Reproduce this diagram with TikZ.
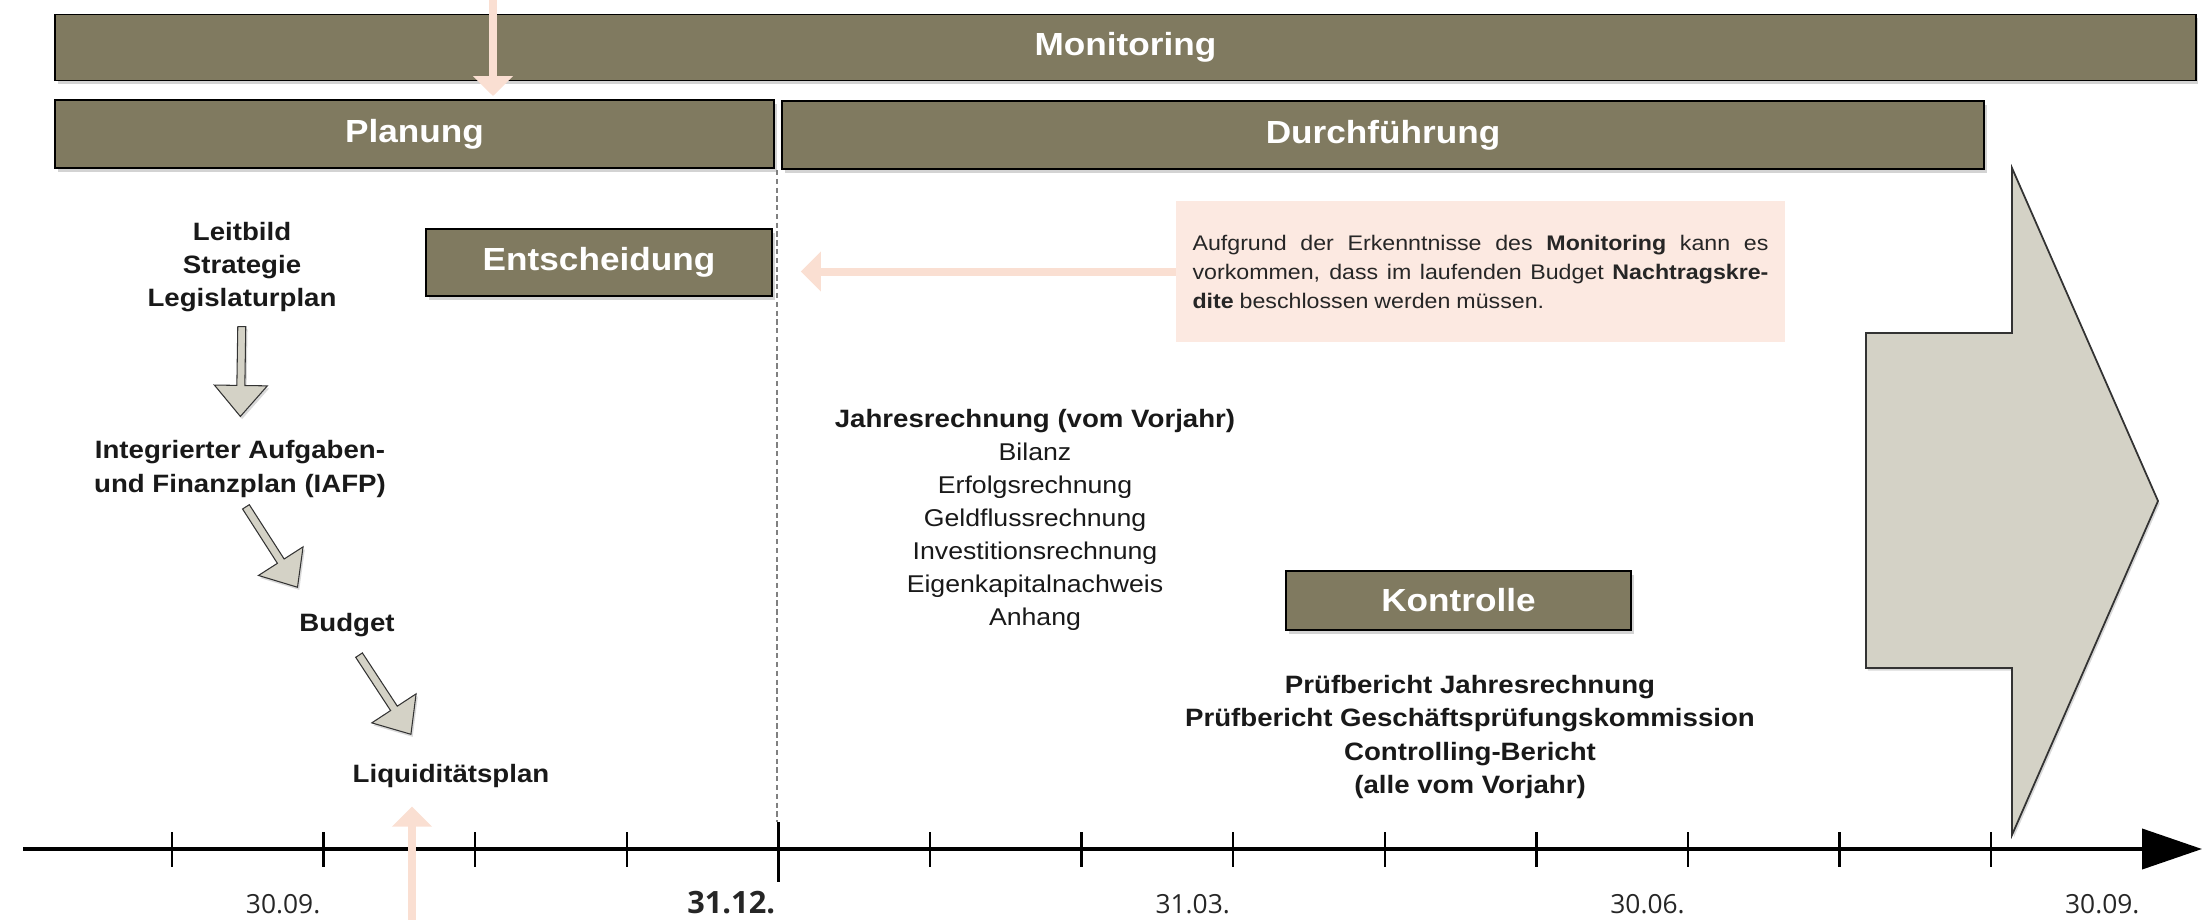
\documentclass[tikz,border=0pt]{standalone}
\usepackage{fontspec}
\setmainfont{Liberation Sans}[FakeStretch=1.1]
\newfontfamily\datefont{Open Sans}
\usepackage{xcolor}
\usetikzlibrary{arrows.meta,calc,shadows}
\definecolor{barolive}{HTML}{807A60}
\definecolor{arrowgray}{HTML}{D4D2C6}
\definecolor{notepink}{HTML}{FCE9E1}
\definecolor{peach}{HTML}{FADFD2}

% hollow block arrow between two anchors: from, to, gap at start, gap at end
\newcommand{\blockarrow}[4]{%
  \coordinate (ba-s) at ($(#1)!#3!(#2)$);
  \coordinate (ba-t) at ($(#2)!#4!(#1)$);
  \coordinate (ba-n) at ($(ba-t)!0.62cm!(ba-s)$);
  \draw[grayarr] ($(ba-s)!0.08cm!90:(ba-t)$) -- ($(ba-n)!0.08cm!90:(ba-t)$)
    -- ($(ba-n)!0.53cm!90:(ba-t)$) -- (ba-t) -- ($(ba-n)!0.53cm!-90:(ba-t)$)
    -- ($(ba-n)!0.08cm!-90:(ba-t)$) -- ($(ba-s)!0.08cm!-90:(ba-t)$) -- cycle;
}

\begin{document}
\begin{tikzpicture}[x=0.02cm, y=-0.02cm,
  phase/.style={draw=black, line width=1.1pt, fill=barolive, text=white, inner sep=0pt,
    font=\fontsize{18.2}{22}\selectfont\bfseries,
    drop shadow={shadow xshift=1.5pt, shadow yshift=-2pt, opacity=0.35}},
  txt/.style={align=center, inner sep=0pt, text=black!90, font=\fontsize{13.8}{18.8}\selectfont},
  boldtxt/.style={txt, font=\fontsize{14.3}{18.8}\selectfont\bfseries},
  note/.style={fill=notepink, inner xsep=0.33cm, text width=11.52cm, minimum height=2.82cm,
    font=\fontsize{12}{16.5}\selectfont, text=black!85},
  grayarr/.style={draw=black!80, line width=0.6pt, fill=arrowgray,
    drop shadow={shadow xshift=1pt, shadow yshift=-1.5pt, opacity=0.3}},
  peacharr/.style={draw=peach, line width=0.16cm, -{Triangle[length=0.4cm, width=0.78cm]}},
  tick/.style={line width=1.3pt},
  datelbl/.style={anchor=east, inner sep=0pt, font=\datefont\fontsize{15}{18}\selectfont, text=black!85}
]
  \useasboundingbox (0,0) rectangle (2209,920);

  \draw[densely dashed, gray, line width=0.6pt] (777,170) -- (777,822);

  \node[phase, minimum width=42.82cm, minimum height=1.32cm] (mon)   at (1125.5,47.5) {Monitoring};
  \node[phase, minimum width=14.38cm, minimum height=1.36cm] (plan)  at (414.5,134)   {Planung};
  \node[phase, minimum width=24.04cm, minimum height=1.36cm] (durch) at (1383,135)    {Durchführung};
  \node[phase, minimum width=6.92cm,  minimum height=1.34cm] (ent)   at (599,262.5)   {Entscheidung};
  \node[phase, minimum width=6.9cm,   minimum height=1.18cm] (kon)   at (1458.5,600.5) {Kontrolle};

  \node[boldtxt] (leit)   at (242,267.5) {Leitbild\\Strategie\\Legislaturplan};
  \node[boldtxt] (iafp)   at (240,469)   {Integrierter Aufgaben-\\und Finanzplan (IAFP)};
  \node[boldtxt] (budget) at (347,624.6) {Budget};
  \node[boldtxt] (liq)    at (451,775.6) {Liquiditätsplan};
  \node[txt] (jahr) at (1035,519.5) {{\fontsize{14.3}{18.8}\selectfont\bfseries Jahresrechnung (vom Vorjahr)}\\Bilanz\\Erfolgsrechnung\\Geldflussrechnung\\Investitionsrechnung\\Eigenkapitalnachweis\\Anhang};
  \node[boldtxt] (pruef) at (1470,737) {Prüfbericht Jahresrechnung\\Prüfbericht Geschäftsprüfungskommission\\Controlling-Bericht\\(alle vom Vorjahr)};

  \node[note] (note) at (1480.5,271.5) {\spaceskip=0.28em plus 2em minus 0.05em\relax
    \makebox[11.52cm][s]{Aufgrund der Erkenntnisse des \textbf{Monitoring} kann es}\\
    \makebox[11.52cm][s]{vorkommen, dass im laufenden Budget \textbf{Nachtragskre-}}\\
    \textbf{dite} beschlossen werden müssen.};

  \draw[grayarr, line width=1pt] (1866,333) -- (2012,333) -- (2012,168) -- (2158,501)
    -- (2012,835) -- (2012,668) -- (1866,668) -- cycle;

  \blockarrow{leit.south}{iafp.north}{0.28cm}{0.48cm}
  \blockarrow{iafp.south}{budget.160}{0.22cm}{0.6cm}
  \blockarrow{budget.south}{liq.150}{0.44cm}{0.7cm}

  % time axis
  \coordinate (axl) at (23,849);
  \coordinate (axr) at (2202,849);
  \draw[line width=2.3pt, -{Triangle[length=1.2cm, width=0.8cm]}] (axl) -- (axr);
  \foreach \i in {0,...,12}
    \draw[tick] (172+151.6*\i,832) -- (172+151.6*\i,867);
  \draw[line width=1.6pt] (778.4,822) -- (778.4,882);
  \foreach \i/\lbl in {1/30.09., 7/31.03., 10/30.06., 13/30.09.}
    \node[datelbl] (date\i) at (169+151.6*\i,904) {\lbl};
  \node[datelbl, font=\datefont\fontsize{17.5}{20}\selectfont\bfseries] (date4) at (775.4,903) {31.12.};

  \coordinate (ptop) at (493,0);
  \coordinate (pbot) at (412,920);
  \draw[peacharr, shorten >=0.06cm] (ptop) -- (ptop |- plan.north);
  \draw[peacharr, shorten >=0.56cm] (note.west) -- (note.west -| ent.east);
  \draw[peacharr, shorten >=0.38cm] (pbot) -- (pbot |- liq.south);
\end{tikzpicture}
\end{document}
